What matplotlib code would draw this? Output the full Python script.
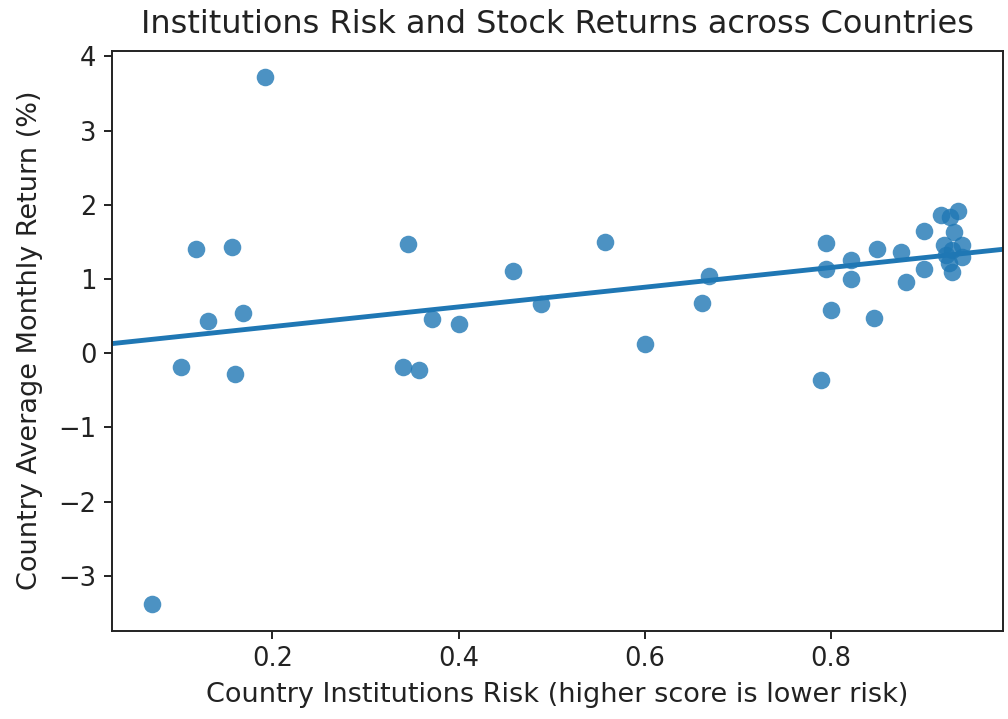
import matplotlib
matplotlib.use('Agg')
import matplotlib.pyplot as plt
import numpy as np

# Country institutions risk score (higher = lower risk) and avg monthly return (%)
inst_risk = np.array([
    0.071, 0.192, 0.118, 0.157, 0.131, 0.169, 0.102, 0.160,
    0.346, 0.371, 0.340, 0.357, 0.400, 0.458, 0.489, 0.557,
    0.600, 0.661, 0.669,
    0.795, 0.795, 0.821, 0.821, 0.800, 0.846, 0.789, 0.849,
    0.875, 0.880, 0.900, 0.900,
    0.918, 0.936, 0.928, 0.932, 0.921, 0.941, 0.930, 0.941,
    0.923, 0.927, 0.930,
])
avg_return = np.array([
    -3.38, 3.72, 1.40, 1.43, 0.43, 0.54, -0.18, -0.28,
    1.47, 0.46, -0.18, -0.22, 0.39, 1.11, 0.67, 1.50,
    0.13, 0.68, 1.04,
    1.48, 1.14, 1.25, 1.00, 0.58, 0.47, -0.36, 1.40,
    1.37, 0.96, 1.65, 1.14,
    1.86, 1.91, 1.83, 1.63, 1.46, 1.46, 1.39, 1.30,
    1.32, 1.21, 1.10,
])

blue = '#1f77b4'

fig = plt.figure(figsize=(10.08, 7.19), dpi=100)
ax = fig.add_axes([0.1108, 0.123, 0.8842, 0.8065])

ax.scatter(inst_risk, avg_return, s=160, color=blue, alpha=0.8, linewidths=0)

xlim = ax.get_xlim()
ylim = ax.get_ylim()
slope, intercept = np.polyfit(inst_risk, avg_return, 1)
xx = np.linspace(xlim[0], xlim[1], 100)
ax.plot(xx, intercept + slope * xx, color=blue, lw=3.5)
ax.set_xlim(xlim)
ax.set_ylim(ylim)

ax.set_xticks([0.2, 0.4, 0.6, 0.8])
ax.set_yticks([-3, -2, -1, 0, 1, 2, 3, 4])
ax.tick_params(labelsize=18.5, length=6, width=1.4, pad=5, colors='#222222')
for sp in ax.spines.values():
    sp.set_linewidth(1.4)
    sp.set_color('#222222')

ax.set_title('Institutions Risk and Stock Returns across Countries', fontsize=23, pad=13, color='#222222')
ax.set_xlabel('Country Institutions Risk (higher score is lower risk)', fontsize=19.5, labelpad=7, color='#222222')
ax.set_ylabel('Country Average Monthly Return (%)', fontsize=19.5, labelpad=11, color='#222222')

fig.savefig('out.png', dpi=100)
